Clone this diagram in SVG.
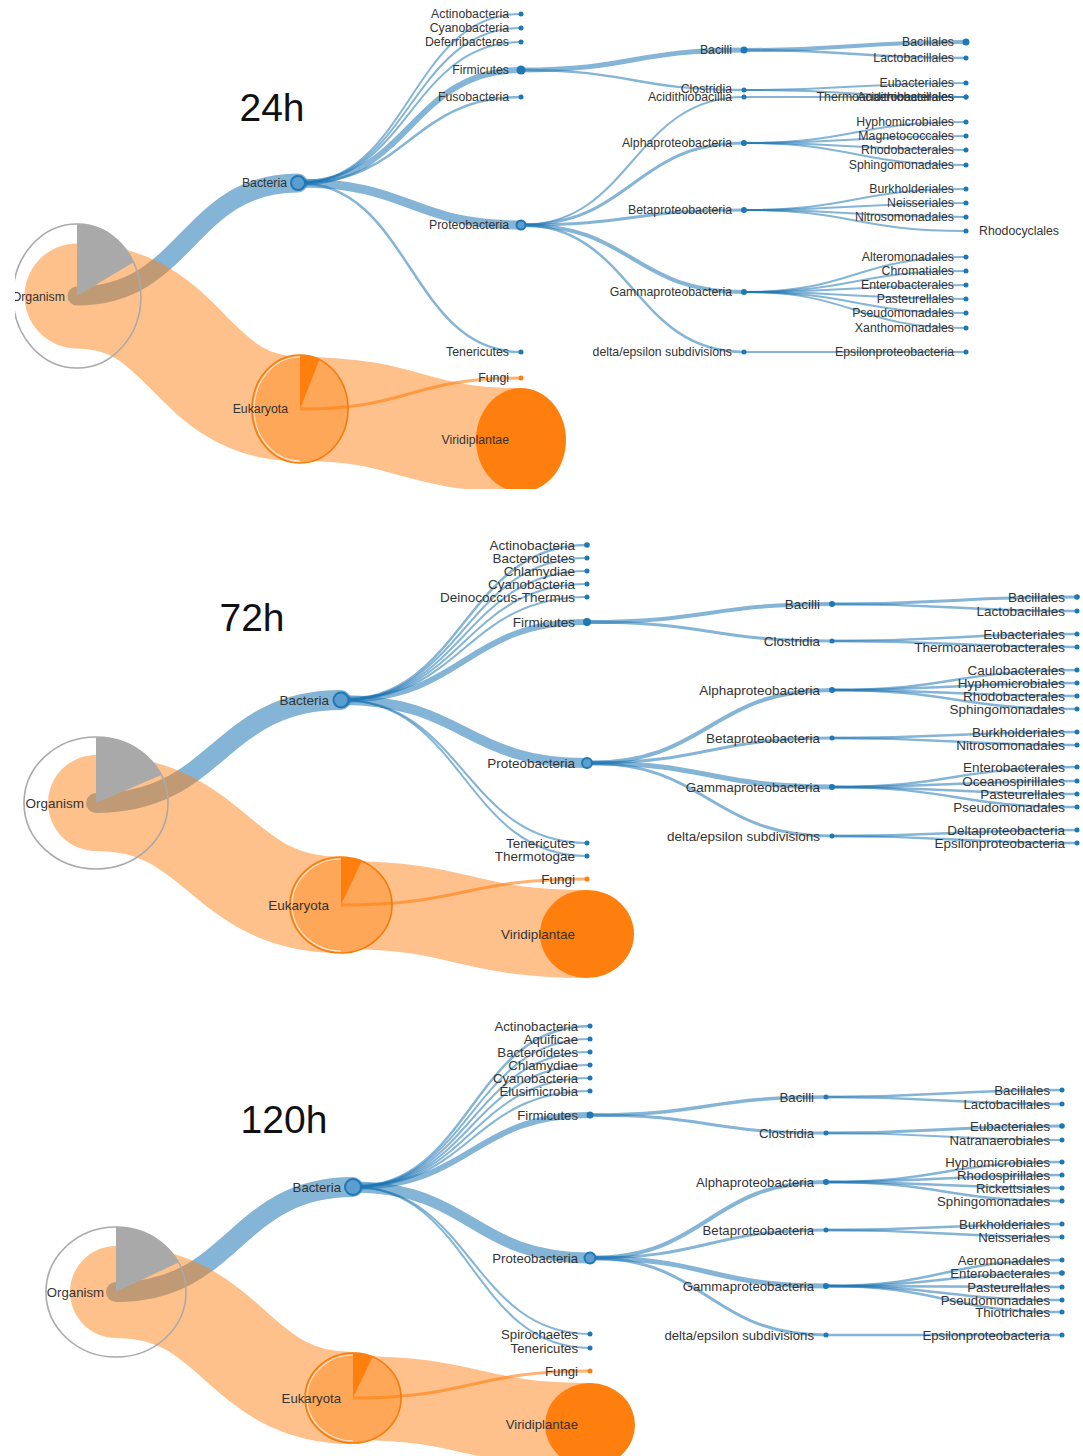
<svg xmlns="http://www.w3.org/2000/svg" width="1083" height="1456" viewBox="0 0 1083 1456">
<style>
.lk{fill:none;stroke:#1f77b4;stroke-opacity:.55}
.bands{opacity:.48}
.band{fill:none;stroke:#ff7f0e}
.fl{fill:none;stroke:#ff7f0e;stroke-opacity:.6;stroke-width:3}
.lab{font-family:"Liberation Sans",Arial,sans-serif;fill:#333;text-anchor:end}
.p1 .lab{font-size:12.3px}
.p2 .lab{font-size:13.5px}
.p3 .lab{font-size:13.2px}
.ttl{font-family:"Liberation Sans",Arial,sans-serif;font-size:39px;fill:#111;text-anchor:middle}
.dot{fill:#1f77b4}
.hub{fill:#5c9dd0;stroke:#1f77b4;stroke-width:2}
.odot{fill:#ff7f0e}
.org{fill:none;stroke:#aaaaaa;stroke-width:1.6}
.wedge{fill:#a9a9a9}
.euk{fill:#ff7f0e;fill-opacity:.4;stroke:#f57c0a;stroke-width:1.6}
.ewedge{fill:#ff7f0e}
.hl{fill:none;stroke:#fff;stroke-opacity:.7;stroke-width:1.2}
.viri{fill:#ff7f0e}
</style>
<defs>
<clipPath id="c1"><rect x="15" y="0" width="1068" height="489"/></clipPath>
</defs>
<rect width="1083" height="1456" fill="#fff"/>

<!-- ================= 24h ================= -->
<g id="panel-24h" class="p1" clip-path="url(#c1)">
<g id="connectors-24h">
<path class="lk" stroke-width="19" stroke-linecap="round" d="M77,296 C187.5,296 187.5,183 298,183"/>
<path class="lk" stroke-width="2" d="M298,183 C410,183 410,14 521,14"/>
<path class="lk" stroke-width="2" d="M298,183 C410,183 410,28 521,28"/>
<path class="lk" stroke-width="2" d="M298,183 C410,183 410,42 521,42"/>
<path class="lk" stroke-width="6" d="M298,183 C410,183 410,70 521,70"/>
<path class="lk" stroke-width="2.5" d="M298,183 C410,183 410,97 521,97"/>
<path class="lk" stroke-width="9" d="M298,183 C410,183 410,225 521,225"/>
<path class="lk" stroke-width="2.5" d="M298,183 C410,183 410,352 521,352"/>
<path class="lk" stroke-width="5" d="M521,70 C632.5,70 632.5,50 744,50"/>
<path class="lk" stroke-width="2.5" d="M521,70 C632.5,70 632.5,90 744,90"/>
<path class="lk" stroke-width="2" d="M521,225 C632.5,225 632.5,97 744,97"/>
<path class="lk" stroke-width="3" d="M521,225 C632.5,225 632.5,143 744,143"/>
<path class="lk" stroke-width="3" d="M521,225 C632.5,225 632.5,210 744,210"/>
<path class="lk" stroke-width="4" d="M521,225 C632.5,225 632.5,292 744,292"/>
<path class="lk" stroke-width="2.5" d="M521,225 C632.5,225 632.5,352 744,352"/>
<path class="lk" stroke-width="4" d="M744,50 C855,50 855,42 966,42"/>
<path class="lk" stroke-width="2.5" d="M744,50 C855,50 855,58 966,58"/>
<path class="lk" stroke-width="2" d="M744,90 C855,90 855,83 966,83"/>
<path class="lk" stroke-width="2" d="M744,90 C855,90 855,97 966,97"/>
<path class="lk" stroke-width="2" d="M744,97 C855,97 855,97 966,97"/>
<path class="lk" stroke-width="2" d="M744,143 C855,143 855,122 966,122"/>
<path class="lk" stroke-width="2" d="M744,143 C855,143 855,136 966,136"/>
<path class="lk" stroke-width="2" d="M744,143 C855,143 855,150 966,150"/>
<path class="lk" stroke-width="2" d="M744,143 C855,143 855,165 966,165"/>
<path class="lk" stroke-width="2" d="M744,210 C855,210 855,189 966,189"/>
<path class="lk" stroke-width="2" d="M744,210 C855,210 855,203 966,203"/>
<path class="lk" stroke-width="2" d="M744,210 C855,210 855,217 966,217"/>
<path class="lk" stroke-width="2" d="M744,210 C855,210 855,231 966,231"/>
<path class="lk" stroke-width="2" d="M744,292 C855,292 855,257 966,257"/>
<path class="lk" stroke-width="2" d="M744,292 C855,292 855,271 966,271"/>
<path class="lk" stroke-width="2" d="M744,292 C855,292 855,285 966,285"/>
<path class="lk" stroke-width="2" d="M744,292 C855,292 855,299 966,299"/>
<path class="lk" stroke-width="2" d="M744,292 C855,292 855,313 966,313"/>
<path class="lk" stroke-width="2" d="M744,292 C855,292 855,328 966,328"/>
<path class="lk" stroke-width="2" d="M744,352 C855,352 855,352 966,352"/>
<g class="bands">
<path class="band" stroke-width="105" stroke-linecap="round" d="M77,296 C188.5,296 188.5,409 300,409"/>
<path class="band" stroke-width="104" d="M300,409 C410.5,409 410.5,440 521,440"/>
</g>
<path class="fl" d="M300,409 C410.5,409 410.5,378 521,378"/>
</g>
<text class="ttl" x="272" y="121">24h</text>
<g id="p1-organism"><ellipse class="org" cx="77" cy="296" rx="64" ry="72"/><path class="wedge" d="M77,296 L77,224 A64,72 0 0 1 133.5,262.2 Z"/><text class="lab" x="65" y="301">Organism</text></g>
<g id="p1-eukaryota"><ellipse class="euk" cx="300" cy="409" rx="48" ry="54"/><path class="ewedge" d="M300,409 L300,355 A48,54 0 0 1 319.5,359.6 Z"/><path class="hl" d="M300,357 A46,52 0 0 0 300,461"/><text class="lab" x="288" y="413">Eukaryota</text></g>
<g id="p1-fungi"><circle class="odot" cx="521" cy="378" r="2.5"/><text class="lab" x="509" y="382">Fungi</text></g>
<g id="p1-viridiplantae"><ellipse class="viri" cx="521" cy="440" rx="45" ry="52"/><text class="lab" x="509" y="444">Viridiplantae</text></g>
<g id="p1-bacteria"><circle class="hub" cx="298" cy="183" r="7"/><text class="lab" x="287" y="187">Bacteria</text></g>
<g id="p1-actinobacteria"><circle class="dot" cx="521" cy="14" r="2.5"/><text class="lab" x="509" y="18">Actinobacteria</text></g>
<g id="p1-cyanobacteria"><circle class="dot" cx="521" cy="28" r="2.5"/><text class="lab" x="509" y="32">Cyanobacteria</text></g>
<g id="p1-deferribacteres"><circle class="dot" cx="521" cy="42" r="2.5"/><text class="lab" x="509" y="46">Deferribacteres</text></g>
<g id="p1-firmicutes"><circle class="dot" cx="521" cy="70" r="4.5"/><text class="lab" x="509" y="74">Firmicutes</text></g>
<g id="p1-fusobacteria"><circle class="dot" cx="521" cy="97" r="2.5"/><text class="lab" x="509" y="101">Fusobacteria</text></g>
<g id="p1-proteobacteria"><circle class="hub" cx="521" cy="225" r="4.5"/><text class="lab" x="509" y="229">Proteobacteria</text></g>
<g id="p1-tenericutes"><circle class="dot" cx="521" cy="352" r="2.5"/><text class="lab" x="509" y="356">Tenericutes</text></g>
<g id="p1-bacilli"><circle class="dot" cx="744" cy="50" r="3.5"/><text class="lab" x="732" y="54">Bacilli</text></g>
<g id="p1-clostridia"><circle class="dot" cx="744" cy="90" r="2.5"/><text class="lab" x="732" y="93">Clostridia</text></g>
<g id="p1-acidithiobacillia"><circle class="dot" cx="744" cy="97" r="2.5"/><text class="lab" x="732" y="101">Acidithiobacillia</text></g>
<g id="p1-alphaproteobacteria"><circle class="dot" cx="744" cy="143" r="3"/><text class="lab" x="732" y="147">Alphaproteobacteria</text></g>
<g id="p1-betaproteobacteria"><circle class="dot" cx="744" cy="210" r="3"/><text class="lab" x="732" y="214">Betaproteobacteria</text></g>
<g id="p1-gammaproteobacteria"><circle class="dot" cx="744" cy="292" r="3"/><text class="lab" x="732" y="296">Gammaproteobacteria</text></g>
<g id="p1-deltaepsilon"><circle class="dot" cx="744" cy="352" r="2.5"/><text class="lab" x="732" y="356">delta/epsilon subdivisions</text></g>
<g id="p1-bacillales"><circle class="dot" cx="966" cy="42" r="3.5"/><text class="lab" x="954" y="46">Bacillales</text></g>
<g id="p1-lactobacillales"><circle class="dot" cx="966" cy="58" r="2.5"/><text class="lab" x="954" y="62">Lactobacillales</text></g>
<g id="p1-eubacteriales"><circle class="dot" cx="966" cy="83" r="2.5"/><text class="lab" x="954" y="87">Eubacteriales</text></g>
<g id="p1-thermoanaerobacterales"><circle class="dot" cx="966" cy="97" r="2.5"/><text class="lab" x="954" y="101">Thermoanaerobacterales</text></g>
<g id="p1-acidithiobacillales"><circle class="dot" cx="966" cy="97" r="2.5"/><text class="lab" x="954" y="101">Acidithiobacillales</text></g>
<g id="p1-hyphomicrobiales"><circle class="dot" cx="966" cy="122" r="2.5"/><text class="lab" x="954" y="126">Hyphomicrobiales</text></g>
<g id="p1-magnetococcales"><circle class="dot" cx="966" cy="136" r="2.5"/><text class="lab" x="954" y="140">Magnetococcales</text></g>
<g id="p1-rhodobacterales"><circle class="dot" cx="966" cy="150" r="2.5"/><text class="lab" x="954" y="154">Rhodobacterales</text></g>
<g id="p1-sphingomonadales"><circle class="dot" cx="966" cy="165" r="2.5"/><text class="lab" x="954" y="169">Sphingomonadales</text></g>
<g id="p1-burkholderiales"><circle class="dot" cx="966" cy="189" r="2.5"/><text class="lab" x="954" y="193">Burkholderiales</text></g>
<g id="p1-neisseriales"><circle class="dot" cx="966" cy="203" r="2.5"/><text class="lab" x="954" y="207">Neisseriales</text></g>
<g id="p1-nitrosomonadales"><circle class="dot" cx="966" cy="217" r="2.5"/><text class="lab" x="954" y="221">Nitrosomonadales</text></g>
<g id="p1-rhodocyclales"><circle class="dot" cx="966" cy="231" r="2.5"/><text class="lab" x="979" y="235" style="text-anchor:start">Rhodocyclales</text></g>
<g id="p1-alteromonadales"><circle class="dot" cx="966" cy="257" r="2.5"/><text class="lab" x="954" y="261">Alteromonadales</text></g>
<g id="p1-chromatiales"><circle class="dot" cx="966" cy="271" r="2.5"/><text class="lab" x="954" y="275">Chromatiales</text></g>
<g id="p1-enterobacterales"><circle class="dot" cx="966" cy="285" r="2.5"/><text class="lab" x="954" y="289">Enterobacterales</text></g>
<g id="p1-pasteurellales"><circle class="dot" cx="966" cy="299" r="2.5"/><text class="lab" x="954" y="303">Pasteurellales</text></g>
<g id="p1-pseudomonadales"><circle class="dot" cx="966" cy="313" r="2.5"/><text class="lab" x="954" y="317">Pseudomonadales</text></g>
<g id="p1-xanthomonadales"><circle class="dot" cx="966" cy="328" r="2.5"/><text class="lab" x="954" y="332">Xanthomonadales</text></g>
<g id="p1-epsilonproteobacteria"><circle class="dot" cx="966" cy="352" r="2.5"/><text class="lab" x="954" y="356">Epsilonproteobacteria</text></g>
</g>

<!-- ================= 72h ================= -->
<g id="panel-72h" class="p2">
<g id="connectors-72h">
<path class="lk" stroke-width="20" stroke-linecap="round" d="M96,803 C218.5,803 218.5,700 341,700"/>
<path class="lk" stroke-width="2.5" d="M341,700 C464,700 464,545 587,545"/>
<path class="lk" stroke-width="2" d="M341,700 C464,700 464,558 587,558"/>
<path class="lk" stroke-width="2" d="M341,700 C464,700 464,571 587,571"/>
<path class="lk" stroke-width="2" d="M341,700 C464,700 464,584 587,584"/>
<path class="lk" stroke-width="2" d="M341,700 C464,700 464,597 587,597"/>
<path class="lk" stroke-width="6" d="M341,700 C464,700 464,622 587,622"/>
<path class="lk" stroke-width="10" d="M341,700 C464,700 464,763 587,763"/>
<path class="lk" stroke-width="2" d="M341,700 C464,700 464,843 587,843"/>
<path class="lk" stroke-width="2" d="M341,700 C464,700 464,856 587,856"/>
<path class="lk" stroke-width="4" d="M587,622 C709.5,622 709.5,604 832,604"/>
<path class="lk" stroke-width="3" d="M587,622 C709.5,622 709.5,641 832,641"/>
<path class="lk" stroke-width="4" d="M587,763 C709.5,763 709.5,690 832,690"/>
<path class="lk" stroke-width="3" d="M587,763 C709.5,763 709.5,738 832,738"/>
<path class="lk" stroke-width="5" d="M587,763 C709.5,763 709.5,787 832,787"/>
<path class="lk" stroke-width="3" d="M587,763 C709.5,763 709.5,836 832,836"/>
<path class="lk" stroke-width="3" d="M832,604 C954.5,604 954.5,597 1077,597"/>
<path class="lk" stroke-width="2.5" d="M832,604 C954.5,604 954.5,611 1077,611"/>
<path class="lk" stroke-width="2.5" d="M832,641 C954.5,641 954.5,634 1077,634"/>
<path class="lk" stroke-width="2.5" d="M832,641 C954.5,641 954.5,647 1077,647"/>
<path class="lk" stroke-width="2.5" d="M832,690 C954.5,690 954.5,670 1077,670"/>
<path class="lk" stroke-width="2.5" d="M832,690 C954.5,690 954.5,683 1077,683"/>
<path class="lk" stroke-width="2.5" d="M832,690 C954.5,690 954.5,696 1077,696"/>
<path class="lk" stroke-width="2.5" d="M832,690 C954.5,690 954.5,709 1077,709"/>
<path class="lk" stroke-width="2.5" d="M832,738 C954.5,738 954.5,732 1077,732"/>
<path class="lk" stroke-width="2.5" d="M832,738 C954.5,738 954.5,745 1077,745"/>
<path class="lk" stroke-width="2.5" d="M832,787 C954.5,787 954.5,767 1077,767"/>
<path class="lk" stroke-width="2.5" d="M832,787 C954.5,787 954.5,781 1077,781"/>
<path class="lk" stroke-width="2.5" d="M832,787 C954.5,787 954.5,794 1077,794"/>
<path class="lk" stroke-width="2.5" d="M832,787 C954.5,787 954.5,807 1077,807"/>
<path class="lk" stroke-width="2.5" d="M832,836 C954.5,836 954.5,830 1077,830"/>
<path class="lk" stroke-width="2.5" d="M832,836 C954.5,836 954.5,843 1077,843"/>
<g class="bands">
<path class="band" stroke-width="96" stroke-linecap="round" d="M96,803 C218.5,803 218.5,905 341,905"/>
<path class="band" stroke-width="88" d="M341,905 C464,905 464,934 587,934"/>
</g>
<path class="fl" d="M341,905 C464,905 464,879 587,879"/>
</g>
<text class="ttl" x="252" y="631">72h</text>
<g id="p2-organism"><ellipse class="org" cx="96" cy="803" rx="72" ry="66"/><path class="wedge" d="M96,803 L96,737 A72,66 0 0 1 161.2,775.1 Z"/><text class="lab" x="84" y="808">Organism</text></g>
<g id="p2-eukaryota"><ellipse class="euk" cx="341" cy="905" rx="51" ry="48"/><path class="ewedge" d="M341,905 L341,857 A51,48 0 0 1 361.8,861.1 Z"/><path class="hl" d="M341,859 A49,46 0 0 0 341,951"/><text class="lab" x="329" y="910">Eukaryota</text></g>
<g id="p2-fungi"><circle class="odot" cx="587" cy="879" r="2.5"/><text class="lab" x="575" y="884">Fungi</text></g>
<g id="p2-viridiplantae"><ellipse class="viri" cx="587" cy="934" rx="47" ry="44"/><text class="lab" x="575" y="939">Viridiplantae</text></g>
<g id="p2-bacteria"><circle class="hub" cx="341" cy="700" r="7.5"/><text class="lab" x="329" y="705">Bacteria</text></g>
<g id="p2-actinobacteria"><circle class="dot" cx="587" cy="545" r="2.8"/><text class="lab" x="575" y="550">Actinobacteria</text></g>
<g id="p2-bacteroidetes"><circle class="dot" cx="587" cy="558" r="2.5"/><text class="lab" x="575" y="563">Bacteroidetes</text></g>
<g id="p2-chlamydiae"><circle class="dot" cx="587" cy="571" r="2.5"/><text class="lab" x="575" y="576">Chlamydiae</text></g>
<g id="p2-cyanobacteria"><circle class="dot" cx="587" cy="584" r="2.5"/><text class="lab" x="575" y="589">Cyanobacteria</text></g>
<g id="p2-deinococcus"><circle class="dot" cx="587" cy="597" r="2.5"/><text class="lab" x="575" y="602">Deinococcus-Thermus</text></g>
<g id="p2-firmicutes"><circle class="dot" cx="587" cy="622" r="4"/><text class="lab" x="575" y="627">Firmicutes</text></g>
<g id="p2-proteobacteria"><circle class="hub" cx="587" cy="763" r="5"/><text class="lab" x="575" y="768">Proteobacteria</text></g>
<g id="p2-tenericutes"><circle class="dot" cx="587" cy="843" r="2.5"/><text class="lab" x="575" y="848">Tenericutes</text></g>
<g id="p2-thermotogae"><circle class="dot" cx="587" cy="856" r="2.5"/><text class="lab" x="575" y="861">Thermotogae</text></g>
<g id="p2-bacilli"><circle class="dot" cx="832" cy="604" r="3"/><text class="lab" x="820" y="609">Bacilli</text></g>
<g id="p2-clostridia"><circle class="dot" cx="832" cy="641" r="2.5"/><text class="lab" x="820" y="646">Clostridia</text></g>
<g id="p2-alphaproteobacteria"><circle class="dot" cx="832" cy="690" r="3"/><text class="lab" x="820" y="695">Alphaproteobacteria</text></g>
<g id="p2-betaproteobacteria"><circle class="dot" cx="832" cy="738" r="2.5"/><text class="lab" x="820" y="743">Betaproteobacteria</text></g>
<g id="p2-gammaproteobacteria"><circle class="dot" cx="832" cy="787" r="3"/><text class="lab" x="820" y="792">Gammaproteobacteria</text></g>
<g id="p2-deltaepsilon"><circle class="dot" cx="832" cy="836" r="2.5"/><text class="lab" x="820" y="841">delta/epsilon subdivisions</text></g>
<g id="p2-bacillales"><circle class="dot" cx="1077" cy="597" r="2.8"/><text class="lab" x="1065" y="602">Bacillales</text></g>
<g id="p2-lactobacillales"><circle class="dot" cx="1077" cy="611" r="2.5"/><text class="lab" x="1065" y="616">Lactobacillales</text></g>
<g id="p2-eubacteriales"><circle class="dot" cx="1077" cy="634" r="2.5"/><text class="lab" x="1065" y="639">Eubacteriales</text></g>
<g id="p2-thermoanaerobacterales"><circle class="dot" cx="1077" cy="647" r="2.5"/><text class="lab" x="1065" y="652">Thermoanaerobacterales</text></g>
<g id="p2-caulobacterales"><circle class="dot" cx="1077" cy="670" r="2.5"/><text class="lab" x="1065" y="675">Caulobacterales</text></g>
<g id="p2-hyphomicrobiales"><circle class="dot" cx="1077" cy="683" r="2.5"/><text class="lab" x="1065" y="688">Hyphomicrobiales</text></g>
<g id="p2-rhodobacterales"><circle class="dot" cx="1077" cy="696" r="2.5"/><text class="lab" x="1065" y="701">Rhodobacterales</text></g>
<g id="p2-sphingomonadales"><circle class="dot" cx="1077" cy="709" r="2.5"/><text class="lab" x="1065" y="714">Sphingomonadales</text></g>
<g id="p2-burkholderiales"><circle class="dot" cx="1077" cy="732" r="2.5"/><text class="lab" x="1065" y="737">Burkholderiales</text></g>
<g id="p2-nitrosomonadales"><circle class="dot" cx="1077" cy="745" r="2.5"/><text class="lab" x="1065" y="750">Nitrosomonadales</text></g>
<g id="p2-enterobacterales"><circle class="dot" cx="1077" cy="767" r="2.5"/><text class="lab" x="1065" y="772">Enterobacterales</text></g>
<g id="p2-oceanospirillales"><circle class="dot" cx="1077" cy="781" r="2.5"/><text class="lab" x="1065" y="786">Oceanospirillales</text></g>
<g id="p2-pasteurellales"><circle class="dot" cx="1077" cy="794" r="2.5"/><text class="lab" x="1065" y="799">Pasteurellales</text></g>
<g id="p2-pseudomonadales"><circle class="dot" cx="1077" cy="807" r="2.5"/><text class="lab" x="1065" y="812">Pseudomonadales</text></g>
<g id="p2-deltaproteobacteria"><circle class="dot" cx="1077" cy="830" r="2.5"/><text class="lab" x="1065" y="835">Deltaproteobacteria</text></g>
<g id="p2-epsilonproteobacteria"><circle class="dot" cx="1077" cy="843" r="2.5"/><text class="lab" x="1065" y="848">Epsilonproteobacteria</text></g>
</g>

<!-- ================= 120h ================= -->
<g id="panel-120h" class="p3">
<g id="connectors-120h">
<path class="lk" stroke-width="20" stroke-linecap="round" d="M116,1292 C234.5,1292 234.5,1187 353,1187"/>
<path class="lk" stroke-width="2.5" d="M353,1187 C471.5,1187 471.5,1026 590,1026"/>
<path class="lk" stroke-width="2" d="M353,1187 C471.5,1187 471.5,1039 590,1039"/>
<path class="lk" stroke-width="2" d="M353,1187 C471.5,1187 471.5,1052 590,1052"/>
<path class="lk" stroke-width="2" d="M353,1187 C471.5,1187 471.5,1065 590,1065"/>
<path class="lk" stroke-width="2" d="M353,1187 C471.5,1187 471.5,1078 590,1078"/>
<path class="lk" stroke-width="2" d="M353,1187 C471.5,1187 471.5,1091 590,1091"/>
<path class="lk" stroke-width="6" d="M353,1187 C471.5,1187 471.5,1115 590,1115"/>
<path class="lk" stroke-width="11" d="M353,1187 C471.5,1187 471.5,1258 590,1258"/>
<path class="lk" stroke-width="2" d="M353,1187 C471.5,1187 471.5,1334 590,1334"/>
<path class="lk" stroke-width="2" d="M353,1187 C471.5,1187 471.5,1348 590,1348"/>
<path class="lk" stroke-width="3.5" d="M590,1115 C708,1115 708,1097 826,1097"/>
<path class="lk" stroke-width="3" d="M590,1115 C708,1115 708,1133 826,1133"/>
<path class="lk" stroke-width="4" d="M590,1258 C708,1258 708,1182 826,1182"/>
<path class="lk" stroke-width="3" d="M590,1258 C708,1258 708,1230 826,1230"/>
<path class="lk" stroke-width="5" d="M590,1258 C708,1258 708,1286 826,1286"/>
<path class="lk" stroke-width="3" d="M590,1258 C708,1258 708,1335 826,1335"/>
<path class="lk" stroke-width="2.5" d="M826,1097 C944,1097 944,1090 1062,1090"/>
<path class="lk" stroke-width="2.5" d="M826,1097 C944,1097 944,1104 1062,1104"/>
<path class="lk" stroke-width="3" d="M826,1133 C944,1133 944,1126 1062,1126"/>
<path class="lk" stroke-width="2" d="M826,1133 C944,1133 944,1140 1062,1140"/>
<path class="lk" stroke-width="2.5" d="M826,1182 C944,1182 944,1162 1062,1162"/>
<path class="lk" stroke-width="2.5" d="M826,1182 C944,1182 944,1175 1062,1175"/>
<path class="lk" stroke-width="2.5" d="M826,1182 C944,1182 944,1188 1062,1188"/>
<path class="lk" stroke-width="2.5" d="M826,1182 C944,1182 944,1201 1062,1201"/>
<path class="lk" stroke-width="2.5" d="M826,1230 C944,1230 944,1224 1062,1224"/>
<path class="lk" stroke-width="2.5" d="M826,1230 C944,1230 944,1237 1062,1237"/>
<path class="lk" stroke-width="2.5" d="M826,1286 C944,1286 944,1260 1062,1260"/>
<path class="lk" stroke-width="2.5" d="M826,1286 C944,1286 944,1273 1062,1273"/>
<path class="lk" stroke-width="2.5" d="M826,1286 C944,1286 944,1287 1062,1287"/>
<path class="lk" stroke-width="2.5" d="M826,1286 C944,1286 944,1300 1062,1300"/>
<path class="lk" stroke-width="2.5" d="M826,1286 C944,1286 944,1312 1062,1312"/>
<path class="lk" stroke-width="2.5" d="M826,1335 C944,1335 944,1335 1062,1335"/>
<g class="bands">
<path class="band" stroke-width="92" stroke-linecap="round" d="M116,1292 C234.5,1292 234.5,1398 353,1398"/>
<path class="band" stroke-width="84" d="M353,1398 C471.5,1398 471.5,1425 590,1425"/>
</g>
<path class="fl" d="M353,1398 C471.5,1398 471.5,1371 590,1371"/>
</g>
<text class="ttl" x="284" y="1133">120h</text>
<g id="p3-organism"><ellipse class="org" cx="116" cy="1292" rx="70" ry="65"/><path class="wedge" d="M116,1292 L116,1227 A70,65 0 0 1 178.4,1262.5 Z"/><text class="lab" x="104" y="1297">Organism</text></g>
<g id="p3-eukaryota"><ellipse class="euk" cx="353" cy="1398" rx="48" ry="45"/><path class="ewedge" d="M353,1398 L353,1353 A48,45 0 0 1 372.5,1356.9 Z"/><path class="hl" d="M353,1355 A46,43 0 0 0 353,1441"/><text class="lab" x="341" y="1403">Eukaryota</text></g>
<g id="p3-fungi"><circle class="odot" cx="590" cy="1371" r="2.5"/><text class="lab" x="578" y="1376">Fungi</text></g>
<g id="p3-viridiplantae"><ellipse class="viri" cx="590" cy="1425" rx="45" ry="42"/><text class="lab" x="578" y="1429">Viridiplantae</text></g>
<g id="p3-bacteria"><circle class="hub" cx="353" cy="1187" r="8"/><text class="lab" x="341" y="1192">Bacteria</text></g>
<g id="p3-actinobacteria"><circle class="dot" cx="590" cy="1026" r="2.5"/><text class="lab" x="578" y="1031">Actinobacteria</text></g>
<g id="p3-aquificae"><circle class="dot" cx="590" cy="1039" r="2.5"/><text class="lab" x="578" y="1044">Aquificae</text></g>
<g id="p3-bacteroidetes"><circle class="dot" cx="590" cy="1052" r="2.5"/><text class="lab" x="578" y="1057">Bacteroidetes</text></g>
<g id="p3-chlamydiae"><circle class="dot" cx="590" cy="1065" r="2.5"/><text class="lab" x="578" y="1070">Chlamydiae</text></g>
<g id="p3-cyanobacteria"><circle class="dot" cx="590" cy="1078" r="2.5"/><text class="lab" x="578" y="1083">Cyanobacteria</text></g>
<g id="p3-elusimicrobia"><circle class="dot" cx="590" cy="1091" r="2.5"/><text class="lab" x="578" y="1096">Elusimicrobia</text></g>
<g id="p3-firmicutes"><circle class="dot" cx="590" cy="1115" r="3.5"/><text class="lab" x="578" y="1120">Firmicutes</text></g>
<g id="p3-proteobacteria"><circle class="hub" cx="590" cy="1258" r="5.5"/><text class="lab" x="578" y="1263">Proteobacteria</text></g>
<g id="p3-spirochaetes"><circle class="dot" cx="590" cy="1334" r="2.5"/><text class="lab" x="578" y="1339">Spirochaetes</text></g>
<g id="p3-tenericutes"><circle class="dot" cx="590" cy="1348" r="2.5"/><text class="lab" x="578" y="1353">Tenericutes</text></g>
<g id="p3-bacilli"><circle class="dot" cx="826" cy="1097" r="2.5"/><text class="lab" x="814" y="1102">Bacilli</text></g>
<g id="p3-clostridia"><circle class="dot" cx="826" cy="1133" r="2.5"/><text class="lab" x="814" y="1138">Clostridia</text></g>
<g id="p3-alphaproteobacteria"><circle class="dot" cx="826" cy="1182" r="3"/><text class="lab" x="814" y="1187">Alphaproteobacteria</text></g>
<g id="p3-betaproteobacteria"><circle class="dot" cx="826" cy="1230" r="2.5"/><text class="lab" x="814" y="1235">Betaproteobacteria</text></g>
<g id="p3-gammaproteobacteria"><circle class="dot" cx="826" cy="1286" r="3"/><text class="lab" x="814" y="1291">Gammaproteobacteria</text></g>
<g id="p3-deltaepsilon"><circle class="dot" cx="826" cy="1335" r="2.5"/><text class="lab" x="814" y="1340">delta/epsilon subdivisions</text></g>
<g id="p3-bacillales"><circle class="dot" cx="1062" cy="1090" r="2.5"/><text class="lab" x="1050" y="1095">Bacillales</text></g>
<g id="p3-lactobacillales"><circle class="dot" cx="1062" cy="1104" r="2.5"/><text class="lab" x="1050" y="1109">Lactobacillales</text></g>
<g id="p3-eubacteriales"><circle class="dot" cx="1062" cy="1126" r="2.8"/><text class="lab" x="1050" y="1131">Eubacteriales</text></g>
<g id="p3-natranaerobiales"><circle class="dot" cx="1062" cy="1140" r="2.5"/><text class="lab" x="1050" y="1145">Natranaerobiales</text></g>
<g id="p3-hyphomicrobiales"><circle class="dot" cx="1062" cy="1162" r="2.5"/><text class="lab" x="1050" y="1167">Hyphomicrobiales</text></g>
<g id="p3-rhodospirillales"><circle class="dot" cx="1062" cy="1175" r="2.5"/><text class="lab" x="1050" y="1180">Rhodospirillales</text></g>
<g id="p3-rickettsiales"><circle class="dot" cx="1062" cy="1188" r="2.5"/><text class="lab" x="1050" y="1193">Rickettsiales</text></g>
<g id="p3-sphingomonadales"><circle class="dot" cx="1062" cy="1201" r="2.5"/><text class="lab" x="1050" y="1206">Sphingomonadales</text></g>
<g id="p3-burkholderiales"><circle class="dot" cx="1062" cy="1224" r="2.5"/><text class="lab" x="1050" y="1229">Burkholderiales</text></g>
<g id="p3-neisseriales"><circle class="dot" cx="1062" cy="1237" r="2.5"/><text class="lab" x="1050" y="1242">Neisseriales</text></g>
<g id="p3-aeromonadales"><circle class="dot" cx="1062" cy="1260" r="2.5"/><text class="lab" x="1050" y="1265">Aeromonadales</text></g>
<g id="p3-enterobacterales"><circle class="dot" cx="1062" cy="1273" r="2.8"/><text class="lab" x="1050" y="1278">Enterobacterales</text></g>
<g id="p3-pasteurellales"><circle class="dot" cx="1062" cy="1287" r="2.5"/><text class="lab" x="1050" y="1292">Pasteurellales</text></g>
<g id="p3-pseudomonadales"><circle class="dot" cx="1062" cy="1300" r="2.5"/><text class="lab" x="1050" y="1305">Pseudomonadales</text></g>
<g id="p3-thiotrichales"><circle class="dot" cx="1062" cy="1312" r="2.5"/><text class="lab" x="1050" y="1317">Thiotrichales</text></g>
<g id="p3-epsilonproteobacteria"><circle class="dot" cx="1062" cy="1335" r="2.5"/><text class="lab" x="1050" y="1340">Epsilonproteobacteria</text></g>
</g>
</svg>
